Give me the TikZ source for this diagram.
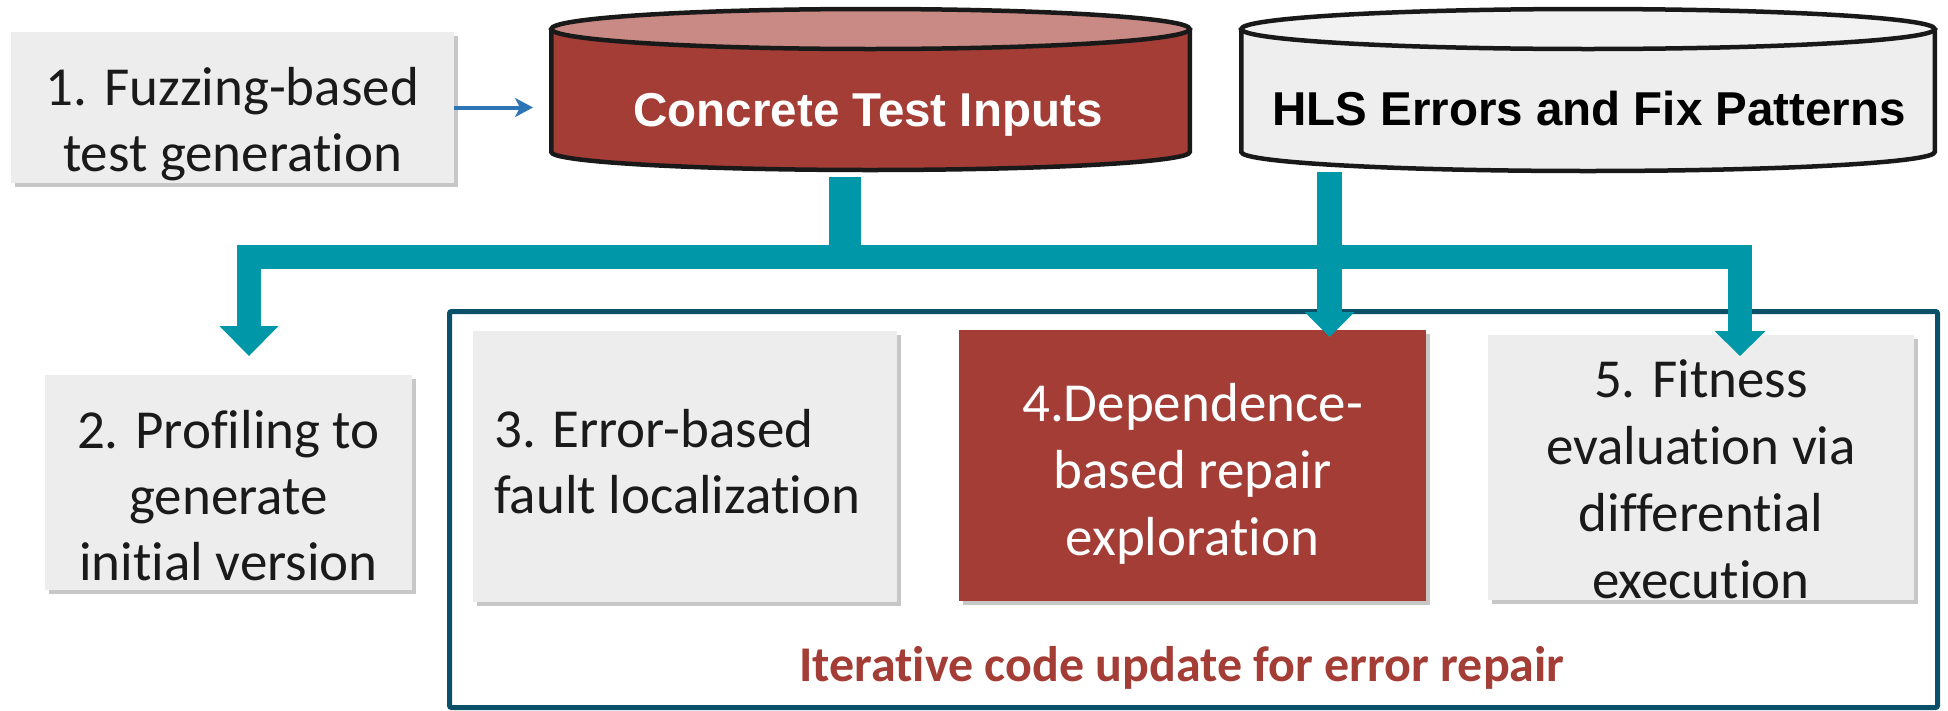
\documentclass[tikz,border=0pt]{standalone}
\usepackage{fontspec}
\setmainfont{Carlito}[Ligatures=NoCommon]
\newfontfamily\arialfont{Liberation Sans}
\usetikzlibrary{arrows.meta,shadows,calc}
\definecolor{tealc}{RGB}{0,152,168}
\definecolor{frameblue}{RGB}{10,80,105}
\definecolor{redfill}{RGB}{163,61,54}
\definecolor{redtop}{RGB}{201,137,132}
\definecolor{boxgray}{RGB}{237,237,237}
\definecolor{cylgray}{RGB}{238,238,238}
\definecolor{cyltop}{RGB}{242,242,242}
\definecolor{arrowblue}{RGB}{46,117,182}
\definecolor{txt}{RGB}{26,26,26}
\begin{document}
\begin{tikzpicture}[x=1pt,y=-1pt,
  boxshadow/.style={drop shadow={shadow xshift=4pt,shadow yshift=-4pt,opacity=0.22,fill=black}},
  graybox/.style={rectangle,fill=boxgray,draw=none,inner sep=0pt,boxshadow},
  redbox/.style={rectangle,fill=redfill,draw=none,inner sep=0pt,boxshadow},
  bodytext/.style={font=\fontsize{55}{66}\selectfont,inner sep=0pt,align=center,anchor=north,text=txt},
  cyltext/.style={font=\arialfont\bfseries\fontsize{47.5}{57}\selectfont,inner sep=0pt,anchor=base},
  cylline/.style={draw=black!90,line width=4.5pt},
  tealline/.style={draw=tealc,line width=24pt},
]
\useasboundingbox (0,0) rectangle (1948,710);

% frame of the iterative loop
\node[draw=frameblue,line width=5pt,rounded corners=2pt,inner sep=0pt,
      minimum width=1488pt,minimum height=396pt] (frame) at (1193.5,509.5) {};
\node[font=\bfseries\fontsize{50}{60}\selectfont,text=redfill,inner sep=0pt,anchor=base]
      (lbl) at (1182,681) {Iterative code update for error repair};

% boxes
\node[graybox,minimum width=443pt,minimum height=151pt] (b1) at (232.5,107.5) {};
\node[graybox,minimum width=367pt,minimum height=215pt] (b2) at (228.5,482.5) {};
\node[graybox,minimum width=424pt,minimum height=271pt] (b3) at (685,466.5) {};
\node[redbox,minimum width=467pt,minimum height=271pt] (b4) at (1192.5,465.5) {};
\node[graybox,minimum width=426pt,minimum height=265pt] (b5) at (1701,467.5) {};

% box texts
\node[bodytext] (t1) at (232.5,60) {\rule{0pt}{45pt}1. Fuzzing-based\\test generation};
\node[bodytext] (t2) at (228.5,403) {\rule{0pt}{45pt}2. Profiling to\\generate\\initial version};
\node[bodytext,align=left,anchor=north west] (t3) at (494,402) {\rule{0pt}{45pt}3. Error-based\\fault localization};
\node[bodytext,text=white,font=\fontsize{55}{67}\selectfont] (t4) at (1192.5,376) {\rule{0pt}{45pt}4.Dependence-\\based repair\\exploration};
\node[bodytext,font=\fontsize{55}{67}\selectfont] (t5) at (1701,352) {\rule{0pt}{45pt}5. Fitness\\evaluation via\\differential\\execution};

% cylinder 1: Concrete Test Inputs
\fill[redfill] (551.25,29) -- (551.25,152) arc[start angle=180,end angle=0,x radius=319.25,y radius=18] -- (1189.75,29) -- cycle;
\draw[cylline] (551.25,29) -- (551.25,152) arc[start angle=180,end angle=0,x radius=319.25,y radius=18] -- (1189.75,29);
\filldraw[cylline,fill=redtop] (870.5,29) ellipse[x radius=319.25,y radius=20];
\node[cyltext,text=white] (cti) at (868,126) {Concrete Test Inputs};

% cylinder 2: HLS Errors and Fix Patterns
\fill[cylgray] (1241.25,29) -- (1241.25,152) arc[start angle=180,end angle=0,x radius=346.75,y radius=19] -- (1934.75,29) -- cycle;
\draw[cylline] (1241.25,29) -- (1241.25,152) arc[start angle=180,end angle=0,x radius=346.75,y radius=19] -- (1934.75,29);
\filldraw[cylline,fill=cyltop] (1588,29) ellipse[x radius=346.75,y radius=20];
\node[cyltext,text=black] (hls) at (1589,125) {HLS Errors and Fix Patterns};

% connector coordinates
\coordinate (ctiin) at (533,107.5);
\coordinate (ctistem) at (845,177);
\coordinate (hlsstem) at (1329.5,172);
\coordinate (jl) at (249,256.5);
\coordinate (jr) at (1740,256.5);
\coordinate (tip2) at (249,356);
\coordinate (tip5) at (1740,356);
\coordinate (tip4) at (1329.5,337);

% blue arrow 1 -> inputs
\draw[arrowblue,line width=4pt,-{Stealth[length=18pt,width=19pt,inset=5pt]}] (b1.east) -- (ctiin);

% teal distribution tree
\draw[tealc,line width=32pt] (ctistem) -- (ctistem |- jl);
\draw[tealline] ($(tip2)+(0,-29)$) -- (jl) -- (jr) -- ($(tip5)+(0,-24)$);
\fill[tealc] ($(tip2)+(-29.5,-30)$) -- ($(tip2)+(29.5,-30)$) -- (tip2) -- cycle;
\fill[tealc] ($(tip5)+(-25.5,-25)$) -- ($(tip5)+(25.5,-25)$) -- (tip5) -- cycle;
\draw[tealc,line width=25pt] (hlsstem) -- ($(tip4)+(0,-24)$);
\fill[tealc] ($(tip4)+(-25,-25)$) -- ($(tip4)+(25,-25)$) -- (tip4) -- cycle;
\end{tikzpicture}
\end{document}
